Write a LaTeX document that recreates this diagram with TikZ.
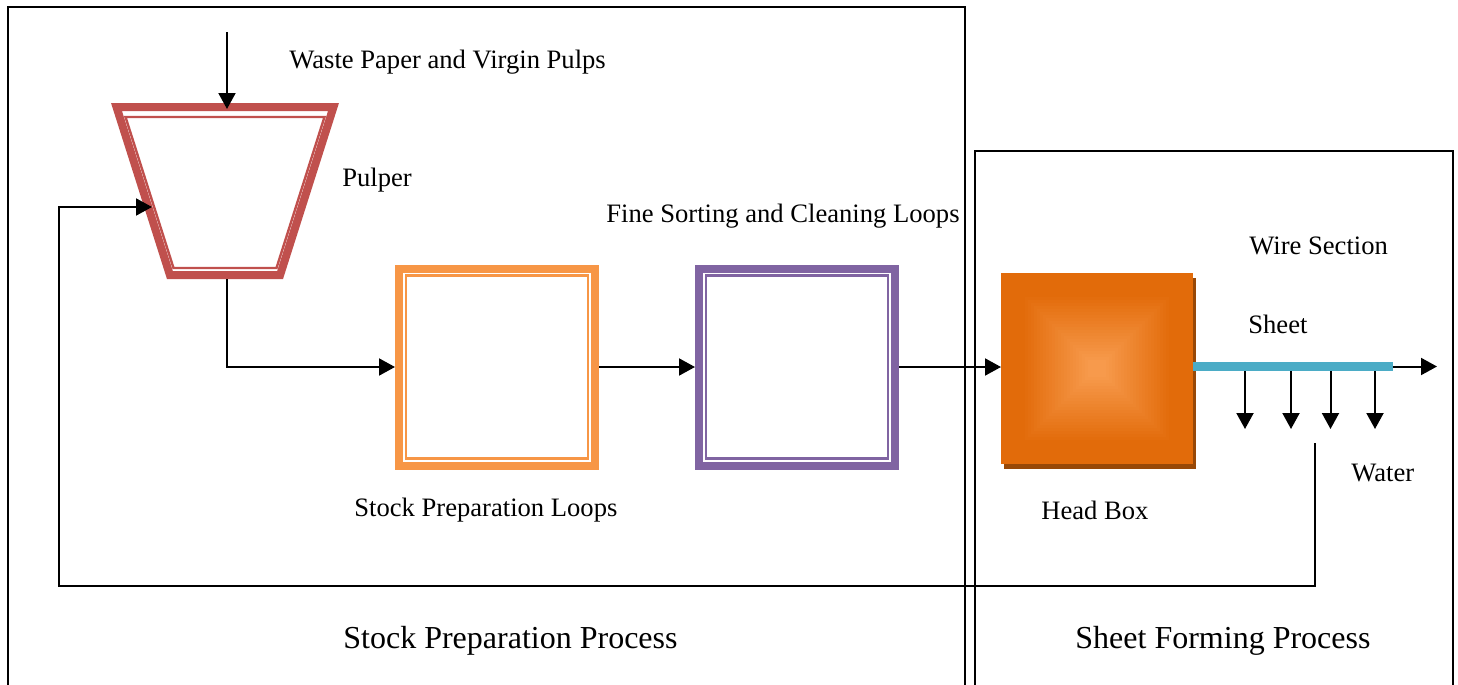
\documentclass[tikz,border=0pt]{standalone}
\usepackage{fontspec}
\setmainfont{Liberation Serif}
\usetikzlibrary{arrows.meta}
\definecolor{pulpRed}{HTML}{C0504D}
\definecolor{spOrange}{HTML}{F79646}
\definecolor{fsPurple}{HTML}{8064A2}
\definecolor{hbDark}{HTML}{E26B0A}
\definecolor{hbLight}{HTML}{F79A4C}
\definecolor{hbShadow}{HTML}{984807}
\definecolor{wireBlue}{HTML}{4BACC6}
\tikzset{
  arr/.style={line width=1pt,-{Triangle[length=8pt,width=8.5pt]}},
  conn/.style={line width=1pt},
  frame/.style={line width=0.8pt},
  lbl/.style={anchor=west,inner sep=0pt,font=\fontsize{13.3}{16}\selectfont},
  biglbl/.style={anchor=west,inner sep=0pt,font=\fontsize{16}{19}\selectfont},
  loopbox/.style={draw=#1,line width=4pt,minimum width=98pt,minimum height=98.5pt,inner sep=0pt},
  thinline/.style={draw=#1,line width=1.2pt},
}
\begin{document}
\begin{tikzpicture}[x=0.5pt,y=-0.5pt]
\useasboundingbox (0,0) rectangle (1458,685);
\clip (0,0) rectangle (1458,685);
% frames
\draw[frame] (8,700) -- (8,7) -- (965,7) -- (965,700);
\draw[frame] (975,700) -- (975,151) -- (1453,151) -- (1453,700);
% pulper
\draw[pulpRed,line width=4pt,line join=miter] (116.5,107) -- (333.5,107) -- (280.1,275) -- (169.9,275) -- cycle;
\draw[thinline=pulpRed] (125.5,117) -- (324.5,117) -- (276.5,268) -- (173.5,268) -- cycle;
\coordinate (pulpT) at (227,109);
\coordinate (pulpB) at (227,279);
\coordinate (pulpL) at (152,207);
\coordinate (feed) at (227,32);
% loop boxes
\node[loopbox=spOrange] (sp) at (497,367) {};
\draw[thinline=spOrange] ([shift={(11,11)}]sp.north west) rectangle ([shift={(-11,-11)}]sp.south east);
\node[loopbox=fsPurple] (fs) at (797,367) {};
\draw[thinline=fsPurple] ([shift={(11,11)}]fs.north west) rectangle ([shift={(-11,-11)}]fs.south east);
% head box
\node[minimum width=96pt,minimum height=95.5pt,inner sep=0pt,outer sep=0pt] (hb) at (1097,368) {};
\fill[hbShadow] ([shift={(3,5)}]hb.north west) rectangle ([shift={(3,5)}]hb.south east);
\foreach \i in {0,...,31}{
  \pgfmathsetmacro\p{max(0,(\i-7)/22*100)}
  \pgfmathsetmacro\p{min(100,\p)}
  \fill[hbLight!\p!hbDark] ([shift={(\i*3,\i*3)}]hb.north west) rectangle ([shift={(-\i*3,-\i*3)}]hb.south east);
}
% wire
\node[fill=wireBlue,minimum width=100pt,minimum height=4.75pt,inner sep=0pt,outer sep=0pt] (bar) at (1292.5,366.5) {};
\coordinate (sheetout) at (1437,366.5);
\coordinate (w1) at (1245,429);
\coordinate (w2) at (1291,429);
\coordinate (w3) at (1330.5,429);
\coordinate (w4) at (1375,429);
\coordinate (wret) at (1315,443);
\coordinate (retcorner) at (59,586);
% connectors
\draw[arr] (feed) -- (pulpT);
\draw[arr] (pulpB) |- (sp.west);
\draw[arr] (sp.east) -- (fs.west);
\draw[arr] (fs.east) -- (fs.east -| hb.west);
\draw[arr] (bar.east) -- (sheetout);
\foreach \w in {w1,w2,w3,w4}{\draw[arr] (bar.south -| \w) -- (\w);}
\draw[arr] (wret) |- (retcorner) |- (pulpL);
% labels
\node[lbl] at (289,62) {Waste Paper and Virgin Pulps};
\node[lbl] at (342,180) {Pulper};
\node[lbl] at (606,216) {Fine Sorting and Cleaning Loops};
\node[lbl] at (354,510) {Stock Preparation Loops};
\node[lbl] at (1041,510) {Head Box};
\node[lbl] at (1249,246) {Wire Section};
\node[lbl] at (1248,324) {Sheet};
\node[lbl] at (1351,473) {Water};
\node[biglbl] at (343,641) {Stock Preparation Process};
\node[biglbl] at (1075,641) {Sheet Forming Process};
\end{tikzpicture}
\end{document}
